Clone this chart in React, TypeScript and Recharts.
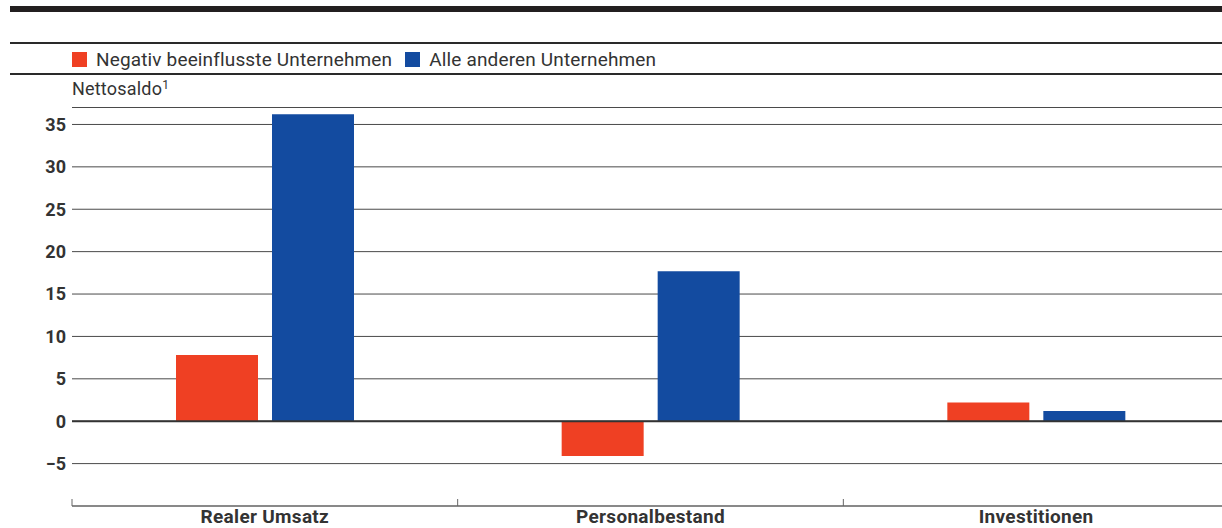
import React from "react";
import {
  BarChart,
  Bar,
  XAxis,
  YAxis,
  CartesianGrid,
  ReferenceLine,
  Legend,
} from "recharts";

// Survey results: net balance by group of firms
const categories = ["Realer Umsatz", "Personalbestand", "Investitionen"];
const negativValues = [7.8, -4.1, 2.2];
const andereValues = [36.2, 17.7, 1.2];
const yTicks = [-5, 0, 5, 10, 15, 20, 25, 30, 35];
const seriesNames = ["Negativ beeinflusste Unternehmen", "Alle anderen Unternehmen"];
const yLabel = "Nettosaldo";

const data = categories.map((name, i) => ({
  name,
  negativ: negativValues[i],
  andere: andereValues[i],
}));

const FONT = "Roboto, 'Liberation Sans', sans-serif";
const TEXT = "#333333";
const RED = "#EF4023";
const BLUE = "#134BA0";

const CategoryTick = (props: any) => {
  const { x, y, payload } = props;
  const half = payload && typeof payload.offset === "number" ? payload.offset : 0;
  return (
    <g>
      <line x1={x - half} x2={x - half} y1={y - 7} y2={y} stroke="#666" strokeWidth={1} />
      <text
        x={x}
        y={y + 17}
        textAnchor="middle"
        fontFamily={FONT}
        fontWeight={700}
        fontSize={19}
        letterSpacing={0.3}
        fill={TEXT}
      >
        {payload.value}
      </text>
    </g>
  );
};

const LegendContent = (props: any) => {
  const payload: any[] = props.payload || [];
  // keep the series order as declared
  const items = seriesNames
    .map((n) => payload.find((p) => p.value === n))
    .filter(Boolean);
  return (
    <div style={{ display: "flex", alignItems: "center", fontFamily: FONT, fontSize: 19, letterSpacing: 0.15, color: TEXT }}>
      {items.map((p: any, i: number) => (
        <div key={i} style={{ display: "flex", alignItems: "center", marginRight: 13 }}>
          <span style={{ width: 15, height: 15, background: p.color, display: "inline-block", marginRight: 9 }} />
          <span style={{ lineHeight: "19px" }}>{p.value}</span>
        </div>
      ))}
    </div>
  );
};

const YTitle = (props: any) => {
  const vb = props.viewBox || {};
  const x = (vb.x ?? 0) + (vb.width ?? 0);
  return (
    <text x={x} y={95} fontFamily={FONT} fontSize={18} letterSpacing={0.2} fill={TEXT} textAnchor="start">
      {yLabel}
      <tspan fontSize={12} dy={-6}>1</tspan>
    </text>
  );
};

export default function App() {
  return (
    <div
      style={{
        position: "absolute",
        left: 0,
        top: 0,
        width: 1222,
        height: 528,
        overflow: "hidden",
        background: "#fff",
      }}
    >
      {/* header rules */}
      <div style={{ position: "absolute", left: 10, top: 6, width: 1212, height: 6, background: "#231f20" }} />
      <div style={{ position: "absolute", left: 10, top: 42, width: 1212, height: 2, background: "#2a2a2a" }} />
      <div style={{ position: "absolute", left: 10, top: 73, width: 1212, height: 2, background: "#2a2a2a" }} />

      <div style={{ position: "absolute", left: 0, top: 0 }}>
        <BarChart
          width={1240}
          height={528}
          data={data}
          margin={{ top: 107.5, right: 11, bottom: 0, left: 0 }}
          barSize={82}
          barGap={14}
        >
          <CartesianGrid vertical={false} stroke="#4a4a4a" strokeWidth={1} />
          <XAxis
            dataKey="name"
            height={22}
            tickSize={0}
            tickMargin={0}
            tickLine={false}
            axisLine={{ stroke: "#808080", strokeWidth: 1.5 }}
            tick={<CategoryTick />}
            interval={0}
          />
          <YAxis
            width={72}
            domain={[-10, 37]}
            ticks={yTicks}
            allowDataOverflow
            axisLine={false}
            tickLine={false}
            tickSize={0}
            tickMargin={6}
            tickFormatter={(v: number) => (v < 0 ? "\u2212" + Math.abs(v) : String(v))}
            tick={{ fontFamily: FONT, fontWeight: 700, fontSize: 18, fill: TEXT }}
            label={<YTitle />}
          />
          <Legend
            verticalAlign="middle"
            align="center"
            layout="horizontal"
            wrapperStyle={{ position: "absolute", top: 50, left: 72, width: "auto" }}
            content={<LegendContent />}
          />
          <Bar dataKey="negativ" name={seriesNames[0]} fill={RED} isAnimationActive={false} />
          <Bar dataKey="andere" name={seriesNames[1]} fill={BLUE} isAnimationActive={false} />
          <ReferenceLine y={0} stroke="#333" strokeWidth={2} />
        </BarChart>
      </div>
    </div>
  );
}
